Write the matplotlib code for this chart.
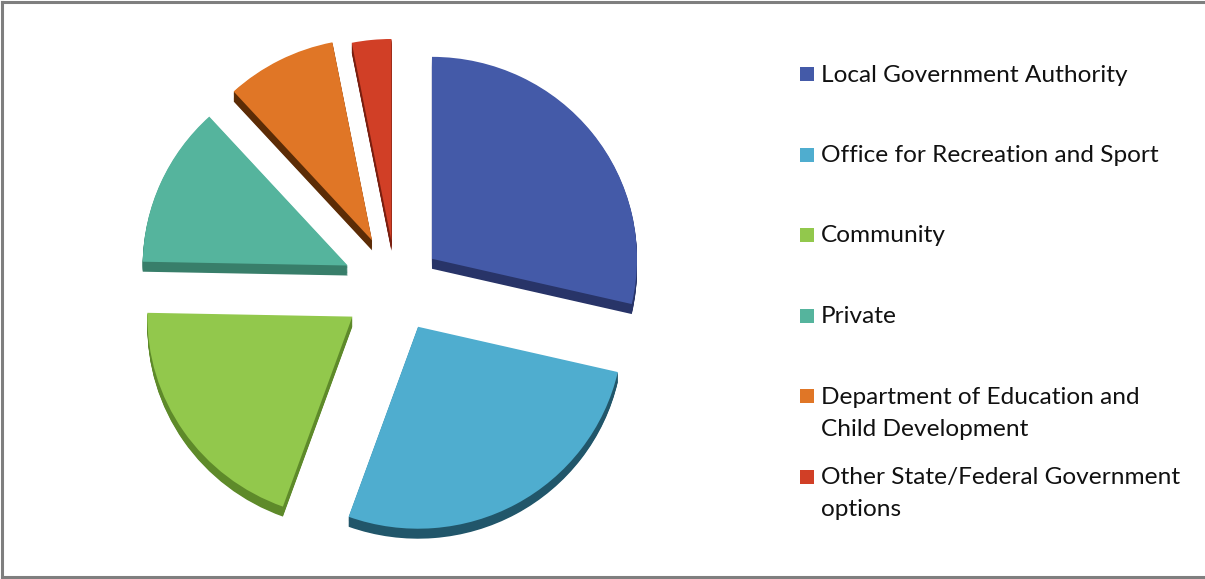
import matplotlib
matplotlib.use("Agg")
import matplotlib.pyplot as plt
from matplotlib.patches import Rectangle
from matplotlib.lines import Line2D

# Funding sources (share of responses, %)
categories = [
    "Local Government Authority",
    "Office for Recreation and Sport",
    "Community",
    "Private",
    "Department of Education and\nChild Development",
    "Other State/Federal Government\noptions",
]
shares = [28.6, 26.9, 19.8, 12.9, 8.7, 3.1]

top_colors = ["#445AA8", "#4FADCF", "#92C84C", "#55B49D", "#E07626", "#D13F26"]
side_colors = ["#283468", "#21566A", "#5E8A2A", "#387E6A", "#5C2C06", "#7A1F10"]
slice_offsets = [46, 46, 53, 53, 53, 47]

W, H = 1205, 579
fig = plt.figure(figsize=(W / 100, H / 100), dpi=100)

# pie axes: x in pixels, y slightly stretched so the disc looks tilted
tilt = 0.985
ax = fig.add_axes([0, 0, 1, 1])
cx, cy = 396, (H - 287) / tilt
radius = 205
depth = 10 / tilt

# extruded side of the 3-D pie, stacked downward
steps = 12
for k in range(steps, 0, -1):
    ax.pie(shares, explode=slice_offsets, center=(cx, cy - depth * k / steps),
           radius=radius, startangle=90, counterclock=False, colors=side_colors,
           wedgeprops=dict(linewidth=0), frame=True)

# top faces
ax.pie(shares, explode=slice_offsets, center=(cx, cy), radius=radius,
       startangle=90, counterclock=False, colors=top_colors,
       wedgeprops=dict(linewidth=0), frame=True)
ax.set_aspect("auto")
ax.set_xlim(0, W)
ax.set_ylim(0, H / tilt)
ax.axis("off")

# legend, placed in pixel units of the figure
def fx(px):
    return px / W

def fy(py):
    return 1 - py / H

lx, ly0, step = 800, 74, 80.5
for i, (name, col) in enumerate(zip(categories, top_colors)):
    y = ly0 + step * i
    fig.patches.append(Rectangle((fx(lx), fy(y + 7)), 14 / W, 14 / H,
                                 transform=fig.transFigure,
                                 facecolor=col, edgecolor="none"))
    for j, line in enumerate(name.split("\n")):
        fig.text(fx(lx + 21), fy(y + 1 + 32 * j), line, fontsize=17.6,
                 family="Lato", color="#111111", va="center", ha="left")

# frame on the left, top and bottom of the chart area
for xs, ys in [((2, 2), (2, 577)), ((2, W), (2, 2)), ((2, W), (577, 577))]:
    fig.lines.append(Line2D([fx(v) for v in xs], [fy(v) for v in ys],
                            transform=fig.transFigure, color="#7F7F7F",
                            linewidth=2.2))

fig.savefig("out.png", dpi=100)
